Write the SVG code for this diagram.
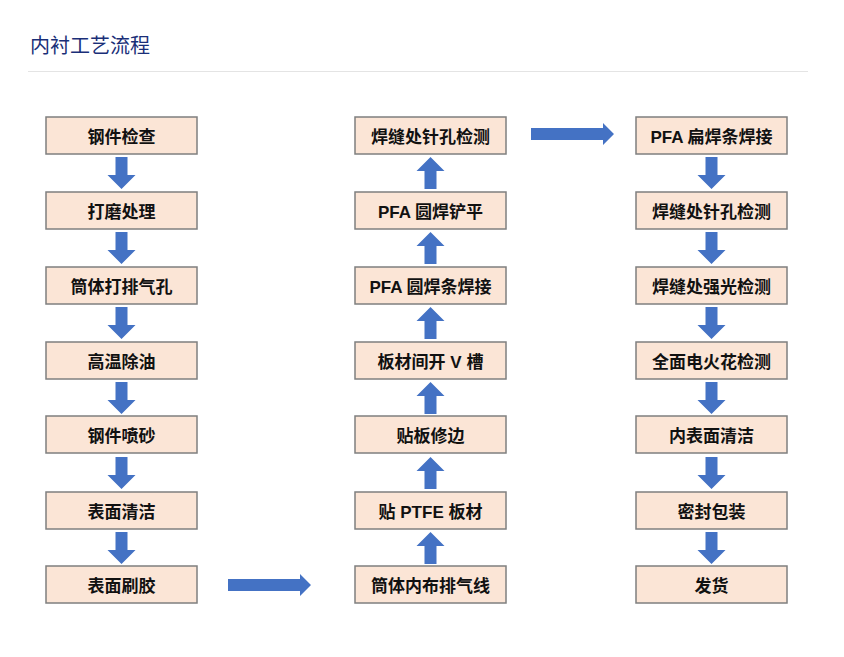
<svg xmlns="http://www.w3.org/2000/svg" width="844" height="657" viewBox="0 0 844 657">
<defs>
<style>
.b{fill:#fbe5d6;stroke:#7f7f7f;stroke-width:1.5}
.t{font-family:"Liberation Sans","Noto Sans CJK SC",sans-serif;font-size:17px;font-weight:bold;fill:#111;text-anchor:middle}
.a{fill:#4472c4}
</style>
<path id="dn" class="a" d="M-6,0 H6 V18 H14 L0,32 L-14,18 H-6 Z"/>
<path id="up" class="a" d="M-6,32 H6 V14 H14 L0,0 L-14,14 H-6 Z"/>
</defs>
<rect width="844" height="657" fill="#fff"/>
<text x="30" y="53" font-family="'Noto Sans CJK SC',sans-serif" font-size="20" fill="#1a2f78">内衬工艺流程</text>
<line x1="28" y1="71.5" x2="808" y2="71.5" stroke="#e4e4e4" stroke-width="1"/>
<g id="c1">
<g id="n1"><rect class="b" x="46" y="117" width="151" height="37"/><text class="t" x="121.5" y="143">钢件检查</text></g>
<g id="n2"><rect class="b" x="46" y="192" width="151" height="37"/><text class="t" x="121.5" y="218">打磨处理</text></g>
<g id="n3"><rect class="b" x="46" y="267" width="151" height="37"/><text class="t" x="121.5" y="293">筒体打排气孔</text></g>
<g id="n4"><rect class="b" x="46" y="342" width="151" height="37"/><text class="t" x="121.5" y="368">高温除油</text></g>
<g id="n5"><rect class="b" x="46" y="416" width="151" height="37"/><text class="t" x="121.5" y="442">钢件喷砂</text></g>
<g id="n6"><rect class="b" x="46" y="492" width="151" height="37"/><text class="t" x="121.5" y="518">表面清洁</text></g>
<g id="n7"><rect class="b" x="46" y="566" width="151" height="37"/><text class="t" x="121.5" y="592">表面刷胶</text></g>
</g>
<g id="c2">
<g id="m1"><rect class="b" x="355" y="117" width="151" height="37"/><text class="t" x="430.5" y="143">焊缝处针孔检测</text></g>
<g id="m2"><rect class="b" x="355" y="192" width="151" height="37"/><text class="t" x="430.5" y="218">PFA 圆焊铲平</text></g>
<g id="m3"><rect class="b" x="355" y="267" width="151" height="37"/><text class="t" x="430.5" y="293">PFA 圆焊条焊接</text></g>
<g id="m4"><rect class="b" x="355" y="342" width="151" height="37"/><text class="t" x="430.5" y="368">板材间开 V 槽</text></g>
<g id="m5"><rect class="b" x="355" y="416" width="151" height="37"/><text class="t" x="430.5" y="442">贴板修边</text></g>
<g id="m6"><rect class="b" x="355" y="492" width="151" height="37"/><text class="t" x="430.5" y="518">贴 PTFE 板材</text></g>
<g id="m7"><rect class="b" x="355" y="566" width="151" height="37"/><text class="t" x="430.5" y="592">筒体内布排气线</text></g>
</g>
<g id="c3">
<g id="k1"><rect class="b" x="636" y="117" width="151" height="37"/><text class="t" x="711.5" y="143">PFA 扁焊条焊接</text></g>
<g id="k2"><rect class="b" x="636" y="192" width="151" height="37"/><text class="t" x="711.5" y="218">焊缝处针孔检测</text></g>
<g id="k3"><rect class="b" x="636" y="267" width="151" height="37"/><text class="t" x="711.5" y="293">焊缝处强光检测</text></g>
<g id="k4"><rect class="b" x="636" y="342" width="151" height="37"/><text class="t" x="711.5" y="368">全面电火花检测</text></g>
<g id="k5"><rect class="b" x="636" y="416" width="151" height="37"/><text class="t" x="711.5" y="442">内表面清洁</text></g>
<g id="k6"><rect class="b" x="636" y="492" width="151" height="37"/><text class="t" x="711.5" y="518">密封包装</text></g>
<g id="k7"><rect class="b" x="636" y="566" width="151" height="37"/><text class="t" x="711.5" y="592">发货</text></g>
</g>
<g id="connectors">
<use href="#dn" x="121.5" y="157"/><use href="#dn" x="121.5" y="232"/><use href="#dn" x="121.5" y="307"/>
<use href="#dn" x="121.5" y="382"/><use href="#dn" x="121.5" y="457"/><use href="#dn" x="121.5" y="532"/>
<use href="#up" x="430.5" y="157"/><use href="#up" x="430.5" y="232"/><use href="#up" x="430.5" y="307"/>
<use href="#up" x="430.5" y="382"/><use href="#up" x="430.5" y="457"/><use href="#up" x="430.5" y="532"/>
<use href="#dn" x="711.5" y="157"/><use href="#dn" x="711.5" y="232"/><use href="#dn" x="711.5" y="307"/>
<use href="#dn" x="711.5" y="382"/><use href="#dn" x="711.5" y="457"/><use href="#dn" x="711.5" y="532"/>
<path class="a" d="M228,579 H300 V574 L311,585 L300,596 V591 H228 Z"/>
<path class="a" d="M531,128 H603 V123 L614,134 L603,145 V140 H531 Z"/>
</g>
</svg>
